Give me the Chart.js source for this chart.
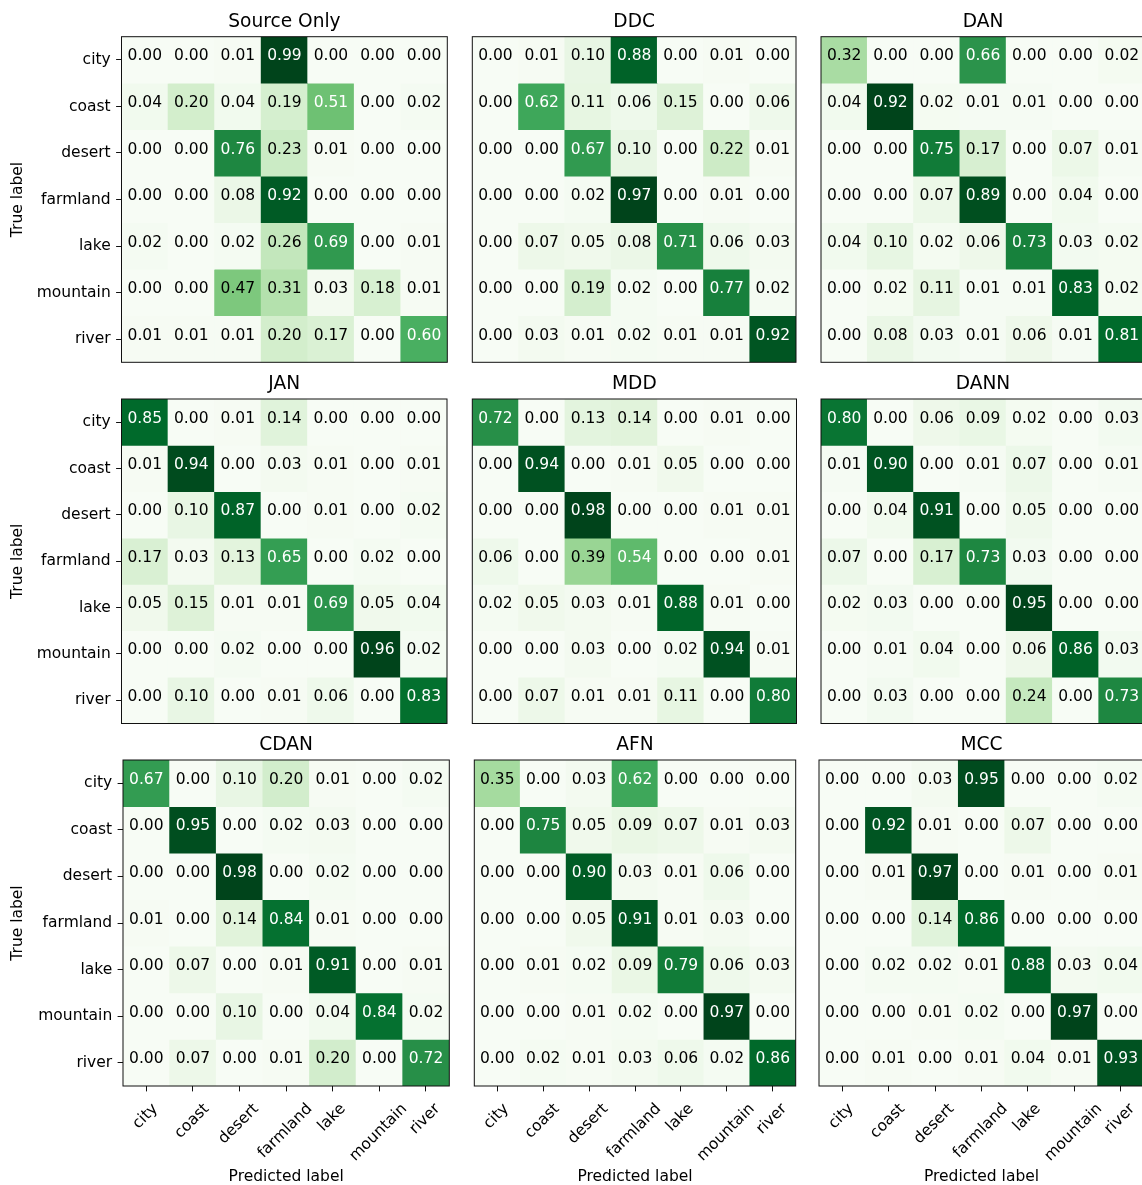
<!DOCTYPE html>
<html>
<head>
<meta charset="utf-8">
<script src="https://cdn.jsdelivr.net/npm/chart.js@4.4.1/dist/chart.umd.min.js"></script>
<style>
  html, body { margin: 0; padding: 0; background: #fff; overflow: hidden; }
  #wrap { position: relative; width: 1142px; height: 1185px; overflow: hidden; }
  #wrap canvas { position: absolute; left: 0; top: 0; }
</style>
</head>
<body>
<div id="wrap"></div>
<script>
const classes = ["city", "coast", "desert", "farmland", "lake", "mountain", "river"];
const titles = ["Source Only", "DDC", "DAN", "JAN", "MDD", "DANN", "CDAN", "AFN", "MCC"];

const sourceOnly = [
  [0.00, 0.00, 0.01, 0.99, 0.00, 0.00, 0.00],
  [0.04, 0.20, 0.04, 0.19, 0.51, 0.00, 0.02],
  [0.00, 0.00, 0.76, 0.23, 0.01, 0.00, 0.00],
  [0.00, 0.00, 0.08, 0.92, 0.00, 0.00, 0.00],
  [0.02, 0.00, 0.02, 0.26, 0.69, 0.00, 0.01],
  [0.00, 0.00, 0.47, 0.31, 0.03, 0.18, 0.01],
  [0.01, 0.01, 0.01, 0.20, 0.17, 0.00, 0.60]
];
const ddc = [
  [0.00, 0.01, 0.10, 0.88, 0.00, 0.01, 0.00],
  [0.00, 0.62, 0.11, 0.06, 0.15, 0.00, 0.06],
  [0.00, 0.00, 0.67, 0.10, 0.00, 0.22, 0.01],
  [0.00, 0.00, 0.02, 0.97, 0.00, 0.01, 0.00],
  [0.00, 0.07, 0.05, 0.08, 0.71, 0.06, 0.03],
  [0.00, 0.00, 0.19, 0.02, 0.00, 0.77, 0.02],
  [0.00, 0.03, 0.01, 0.02, 0.01, 0.01, 0.92]
];
const dan = [
  [0.32, 0.00, 0.00, 0.66, 0.00, 0.00, 0.02],
  [0.04, 0.92, 0.02, 0.01, 0.01, 0.00, 0.00],
  [0.00, 0.00, 0.75, 0.17, 0.00, 0.07, 0.01],
  [0.00, 0.00, 0.07, 0.89, 0.00, 0.04, 0.00],
  [0.04, 0.10, 0.02, 0.06, 0.73, 0.03, 0.02],
  [0.00, 0.02, 0.11, 0.01, 0.01, 0.83, 0.02],
  [0.00, 0.08, 0.03, 0.01, 0.06, 0.01, 0.81]
];
const jan = [
  [0.85, 0.00, 0.01, 0.14, 0.00, 0.00, 0.00],
  [0.01, 0.94, 0.00, 0.03, 0.01, 0.00, 0.01],
  [0.00, 0.10, 0.87, 0.00, 0.01, 0.00, 0.02],
  [0.17, 0.03, 0.13, 0.65, 0.00, 0.02, 0.00],
  [0.05, 0.15, 0.01, 0.01, 0.69, 0.05, 0.04],
  [0.00, 0.00, 0.02, 0.00, 0.00, 0.96, 0.02],
  [0.00, 0.10, 0.00, 0.01, 0.06, 0.00, 0.83]
];
const mdd = [
  [0.72, 0.00, 0.13, 0.14, 0.00, 0.01, 0.00],
  [0.00, 0.94, 0.00, 0.01, 0.05, 0.00, 0.00],
  [0.00, 0.00, 0.98, 0.00, 0.00, 0.01, 0.01],
  [0.06, 0.00, 0.39, 0.54, 0.00, 0.00, 0.01],
  [0.02, 0.05, 0.03, 0.01, 0.88, 0.01, 0.00],
  [0.00, 0.00, 0.03, 0.00, 0.02, 0.94, 0.01],
  [0.00, 0.07, 0.01, 0.01, 0.11, 0.00, 0.80]
];
const dann = [
  [0.80, 0.00, 0.06, 0.09, 0.02, 0.00, 0.03],
  [0.01, 0.90, 0.00, 0.01, 0.07, 0.00, 0.01],
  [0.00, 0.04, 0.91, 0.00, 0.05, 0.00, 0.00],
  [0.07, 0.00, 0.17, 0.73, 0.03, 0.00, 0.00],
  [0.02, 0.03, 0.00, 0.00, 0.95, 0.00, 0.00],
  [0.00, 0.01, 0.04, 0.00, 0.06, 0.86, 0.03],
  [0.00, 0.03, 0.00, 0.00, 0.24, 0.00, 0.73]
];
const cdan = [
  [0.67, 0.00, 0.10, 0.20, 0.01, 0.00, 0.02],
  [0.00, 0.95, 0.00, 0.02, 0.03, 0.00, 0.00],
  [0.00, 0.00, 0.98, 0.00, 0.02, 0.00, 0.00],
  [0.01, 0.00, 0.14, 0.84, 0.01, 0.00, 0.00],
  [0.00, 0.07, 0.00, 0.01, 0.91, 0.00, 0.01],
  [0.00, 0.00, 0.10, 0.00, 0.04, 0.84, 0.02],
  [0.00, 0.07, 0.00, 0.01, 0.20, 0.00, 0.72]
];
const afn = [
  [0.35, 0.00, 0.03, 0.62, 0.00, 0.00, 0.00],
  [0.00, 0.75, 0.05, 0.09, 0.07, 0.01, 0.03],
  [0.00, 0.00, 0.90, 0.03, 0.01, 0.06, 0.00],
  [0.00, 0.00, 0.05, 0.91, 0.01, 0.03, 0.00],
  [0.00, 0.01, 0.02, 0.09, 0.79, 0.06, 0.03],
  [0.00, 0.00, 0.01, 0.02, 0.00, 0.97, 0.00],
  [0.00, 0.02, 0.01, 0.03, 0.06, 0.02, 0.86]
];
const mcc = [
  [0.00, 0.00, 0.03, 0.95, 0.00, 0.00, 0.02],
  [0.00, 0.92, 0.01, 0.00, 0.07, 0.00, 0.00],
  [0.00, 0.01, 0.97, 0.00, 0.01, 0.00, 0.01],
  [0.00, 0.00, 0.14, 0.86, 0.00, 0.00, 0.00],
  [0.00, 0.02, 0.02, 0.01, 0.88, 0.03, 0.04],
  [0.00, 0.00, 0.01, 0.02, 0.00, 0.97, 0.00],
  [0.00, 0.01, 0.00, 0.01, 0.04, 0.01, 0.93]
];
const matrices = [sourceOnly, ddc, dan, jan, mdd, dann, cdan, afn, mcc];

// plot area of each panel: left, top, width, height
const frames = [
  [121.5, 36.7, 325.8, 325.6], [472.3, 36.7, 323.7, 325.6], [821, 36.7, 324, 325.6],
  [121.5, 399, 325.5, 324.5], [472.3, 399, 324.2, 324.5], [821, 399, 324, 324.5],
  [123, 760, 326.3, 326], [474.3, 760, 321.4, 326], [819, 760, 325, 326]
];

const W = 1150, H = 1185;
const FS = 15.5;
const FONT = '"DejaVu Sans"';
Chart.defaults.font.family = FONT;
Chart.defaults.color = '#000';

// matplotlib Greens
const greens = ['#f7fcf5', '#e5f5e0', '#c7e9c0', '#a1d99b', '#74c476', '#41ab5d', '#238b45', '#006d2c', '#00441b'];
function hexRgb(h) {
  return [parseInt(h.slice(1, 3), 16), parseInt(h.slice(3, 5), 16), parseInt(h.slice(5, 7), 16)];
}
function greenAt(t) {
  t = Math.max(0, Math.min(1, t));
  const p = t * (greens.length - 1);
  const i = Math.min(Math.floor(p), greens.length - 2);
  const f = p - i;
  const a = hexRgb(greens[i]), b = hexRgb(greens[i + 1]);
  const c = a.map((v, k) => Math.round(v + (b[k] - v) * f));
  return `rgb(${c[0]},${c[1]},${c[2]})`;
}

const cellText = {
  id: 'cellText',
  afterDatasetsDraw(chart) {
    const m = chart.options.plugins.cellText.matrix;
    const max = Math.max(...m.flat());
    const ctx = chart.ctx;
    ctx.save();
    ctx.font = `${FS}px ${FONT}`;
    ctx.textAlign = 'center';
    ctx.textBaseline = 'middle';
    m.forEach((row, r) => {
      const meta = chart.getDatasetMeta(r);
      row.forEach((v, j) => {
        const el = meta.data[j];
        const cy = (el.y + el.base) / 2 - 3.5;
        ctx.fillStyle = v > max / 2 ? '#fff' : '#000';
        ctx.fillText(v.toFixed(2), el.x, cy);
      });
    });
    ctx.restore();
  },
  afterDraw(chart) {
    const {ctx, chartArea: a} = chart;
    ctx.save();
    ctx.strokeStyle = '#111';
    ctx.lineWidth = 1;
    ctx.strokeRect(a.left, a.top, a.right - a.left, a.bottom - a.top);
    if (chart.options.plugins.cellText.bottom) {
      const xs = chart.scales.x;
      const c = Math.SQRT1_2;
      ctx.font = `${FS}px ${FONT}`;
      ctx.fillStyle = '#000';
      ctx.textAlign = 'right';
      ctx.textBaseline = 'top';
      classes.forEach((lab, i) => {
        const x = xs.getPixelForTick(i);
        const w = ctx.measureText(lab).width;
        const h = FS * 1.164;
        ctx.save();
        ctx.translate(x + c * (w - h) / 2, a.bottom + 15);
        ctx.rotate(-Math.PI / 4);
        ctx.fillText(lab, 0, 0);
        ctx.restore();
      });
    }
    ctx.restore();
  }
};

const wrap = document.getElementById('wrap');

matrices.forEach((m, k) => {
  const [px, py, pw, ph] = frames[k];
  const isLeft = k % 3 === 0;
  const isBottom = k >= 6;
  const max = Math.max(...m.flat());
  const titleH = 26;
  const xh = isBottom ? H - (py + ph) : 0;

  const canvas = document.createElement('canvas');
  canvas.width = W;
  canvas.height = H;
  canvas.style.width = W + 'px';
  canvas.style.height = H + 'px';
  wrap.appendChild(canvas);

  new Chart(canvas, {
    type: 'bar',
    data: {
      labels: classes,
      datasets: m.map((row, r) => ({
        data: classes.map(() => [r, r + 1]),
        backgroundColor: row.map(v => greenAt(v / max)),
        borderWidth: 0,
        grouped: false,
        barPercentage: 1,
        categoryPercentage: 1
      }))
    },
    options: {
      responsive: false,
      animation: false,
      events: [],
      layout: {
        padding: {
          left: isLeft ? 0 : px,
          top: py - titleH,
          right: W - (px + pw),
          bottom: isBottom ? 0 : H - (py + ph)
        }
      },
      scales: {
        x: {
          type: 'category',
          display: isBottom,
          offset: true,
          afterFit: s => { s.height = xh; },
          ticks: { display: false },
          grid: { offset: false, drawOnChartArea: false, drawTicks: true, tickLength: 5.4, tickColor: '#111', tickWidth: 1 },
          border: { display: false },
          title: { display: true, text: 'Predicted label', color: '#000', font: { size: FS, lineHeight: 1.05 }, padding: { top: 0, bottom: 0 } }
        },
        y: {
          type: 'linear',
          min: 0,
          max: 7,
          reverse: true,
          display: isLeft,
          afterBuildTicks: s => { s.ticks = classes.map((c, i) => ({ value: i + 0.5 })); },
          afterFit: s => { s.width = isLeft ? px : 0; },
          ticks: { callback: (v, i) => classes[i], autoSkip: false, padding: 5.4, color: '#000', font: { size: FS } },
          grid: { drawOnChartArea: false, drawTicks: true, tickLength: 5.4, tickColor: '#111', tickWidth: 1 },
          border: { display: false },
          title: { display: true, text: 'True label', color: '#000', font: { size: FS }, padding: { top: 8.5, bottom: 0 } }
        }
      },
      plugins: {
        legend: { display: false },
        tooltip: { enabled: false },
        title: {
          display: true,
          text: titles[k],
          fullSize: false,
          color: '#000',
          font: { size: 18.6, weight: 'normal', lineHeight: '22px' },
          padding: { top: 0, bottom: 4 }
        },
        cellText: { matrix: m, bottom: isBottom }
      }
    },
    plugins: [cellText]
  });
});
</script>
</body>
</html>
